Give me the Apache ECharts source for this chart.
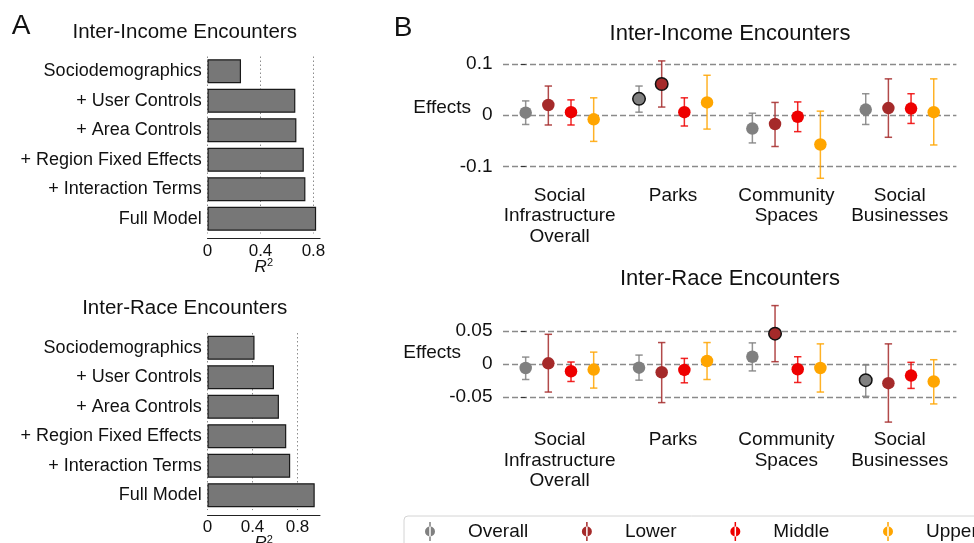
<!DOCTYPE html>
<html>
<head>
<meta charset="utf-8">
<script src="https://cdn.jsdelivr.net/npm/echarts@6/dist/echarts.min.js"></script>
<style>
  html, body { margin: 0; padding: 0; background: #fff; }
  #chart { width: 974px; height: 543px; }
</style>
</head>
<body>
<div id="chart"></div>
<script>
// ---- Panel A: model fit (R^2) for each specification ----
const modelSteps = ['Sociodemographics', '+ User Controls', '+ Area Controls',
  '+ Region Fixed Effects', '+ Interaction Terms', 'Full Model'];
const incomeR2 = [0.253, 0.663, 0.671, 0.727, 0.739, 0.820];
const raceR2 = [0.418, 0.591, 0.635, 0.700, 0.735, 0.953];

// ---- Panel B: effects of social infrastructure by income level ----
const placeTypes = ['Social\nInfrastructure\nOverall', 'Parks', 'Community\nSpaces', 'Social\nBusinesses'];
const incomeLevels = ['Overall', 'Lower', 'Middle', 'Upper'];

// rows: income level (Overall, Lower, Middle, Upper); columns: place type
const incomeEst = [
  [0.005, 0.032, -0.026, 0.011],
  [0.020, 0.061, -0.017, 0.014],
  [0.006, 0.006, -0.003, 0.013],
  [-0.008, 0.025, -0.057, 0.006]
];
const incomeLow = [
  [-0.018, 0.006, -0.054, -0.018],
  [-0.019, 0.016, -0.061, -0.043],
  [-0.019, -0.021, -0.032, -0.016],
  [-0.051, -0.027, -0.123, -0.058]
];
const incomeHigh = [
  [0.028, 0.057, 0.004, 0.042],
  [0.057, 0.106, 0.025, 0.071],
  [0.030, 0.034, 0.026, 0.042],
  [0.034, 0.078, 0.008, 0.071]
];
const incomeSignificant = [
  [false, true, false, false],
  [false, true, false, false],
  [false, false, false, false],
  [false, false, false, false]
];

const raceEst = [
  [-0.006, -0.0055, 0.011, -0.0245],
  [0.001, -0.0125, 0.046, -0.029],
  [-0.011, -0.009, -0.008, -0.0175],
  [-0.0085, 0.0045, -0.006, -0.0265]
];
const raceLow = [
  [-0.0235, -0.0245, -0.0105, -0.049],
  [-0.0425, -0.0585, 0.0035, -0.088],
  [-0.0265, -0.0285, -0.028, -0.037],
  [-0.0365, -0.0235, -0.0425, -0.0605]
];
const raceHigh = [
  [0.0105, 0.0135, 0.032, -0.0015],
  [0.045, 0.0325, 0.0885, 0.0305],
  [0.003, 0.0085, 0.011, 0.0025],
  [0.018, 0.0325, 0.0305, 0.0065]
];
const raceSignificant = [
  [false, false, false, true],
  [false, false, true, false],
  [false, false, false, false],
  [false, false, false, false]
];

const levelColors = ['#808080', '#a52a2a', '#ee0000', '#ffa500'];
const FONT = '"Liberation Sans", Arial, Helvetica, sans-serif';
const INK = '#111111';
// Each place type occupies 5 slots on the x scale: 4 income levels + a gap.
const SLOTS_PER_GROUP = 5;

const chart = echarts.init(document.getElementById('chart'), null, { renderer: 'canvas' });

function errorBars(color) {
  return function (params, api) {
    const x = api.value(0);
    const hi = api.coord([x, api.value(2)]);
    const lo = api.coord([x, api.value(1)]);
    const cap = 3.7;
    const style = { stroke: color, lineWidth: 1.5, opacity: 0.85 };
    return {
      type: 'group',
      children: [
        { type: 'line', shape: { x1: hi[0], y1: hi[1], x2: lo[0], y2: lo[1] }, style: style },
        { type: 'line', shape: { x1: hi[0] - cap, y1: hi[1], x2: hi[0] + cap, y2: hi[1] }, style: style },
        { type: 'line', shape: { x1: lo[0] - cap, y1: lo[1], x2: lo[0] + cap, y2: lo[1] }, style: style }
      ]
    };
  };
}

function effectSeries(est, low, high, sig, xAxisIndex, yAxisIndex) {
  const points = [];
  const bars = [];
  incomeLevels.forEach(function (level, i) {
    points.push({
      type: 'scatter',
      name: level,
      xAxisIndex: xAxisIndex, yAxisIndex: yAxisIndex,
      symbol: 'circle', symbolSize: 12.5,
      clip: false, silent: true, z: 3,
      itemStyle: { color: levelColors[i], opacity: 1 },
      data: placeTypes.map(function (_, g) {
        const item = { value: [g * SLOTS_PER_GROUP + i, est[i][g]] };
        if (sig[i][g]) item.itemStyle = { borderColor: '#111', borderWidth: 1.5 };
        return item;
      })
    });
    bars.push({
      type: 'custom',
      name: level,
      xAxisIndex: xAxisIndex, yAxisIndex: yAxisIndex,
      renderItem: errorBars(levelColors[i]),
      itemStyle: { color: levelColors[i] },
      encode: { x: 0, y: [1, 2] },
      data: placeTypes.map(function (_, g) { return [g * SLOTS_PER_GROUP + i, low[i][g], high[i][g]]; }),
      clip: false, silent: true, z: 2
    });
  });
  return points.concat(bars);
}

function r2Axis(gridIndex, max) {
  return {
    type: 'value', gridIndex: gridIndex, min: 0, max: max, interval: 0.4,
    offset: 5,
    axisLine: { show: true, onZero: false, lineStyle: { color: '#222', width: 1 } },
    axisTick: { show: false },
    axisLabel: { fontSize: 17, color: INK, fontFamily: FONT, margin: 4, showMaxLabel: false },
    splitLine: { show: true, showMaxLine: false, lineStyle: { type: [1.5, 2.5], color: '#8c8c8c', width: 1 } },
    name: '{r|R}{s|2}', nameLocation: 'middle', nameGap: 19, nameMoveOverlap: false,
    nameTextStyle: {
      rich: {
        r: { fontSize: 17, fontStyle: 'italic', color: INK, fontFamily: FONT },
        s: { fontSize: 11, color: INK, fontFamily: FONT, padding: [0, 0, 8, 0] }
      }
    }
  };
}

function modelAxis(gridIndex) {
  return {
    type: 'category', gridIndex: gridIndex, data: modelSteps, inverse: true,
    axisLine: { show: false }, axisTick: { show: false },
    axisLabel: { fontSize: 18, color: INK, fontFamily: FONT, margin: 5.8 }
  };
}

function effectValueXAxis(gridIndex) {
  return { type: 'value', gridIndex: gridIndex, min: -1, max: 19, show: false };
}

function placeAxis(gridIndex, margin) {
  return {
    type: 'category', gridIndex: gridIndex, data: placeTypes, position: 'bottom',
    axisLine: { show: false }, axisTick: { show: false }, splitLine: { show: false },
    axisLabel: {
      fontSize: 19, color: INK, fontFamily: FONT, margin: margin,
      lineHeight: 20.5, verticalAlign: 'top', align: 'center', interval: 0
    }
  };
}

// "lift" raises the axis name above the zero line by that many pixels
function effectYAxis(gridIndex, lim, step, nameGap, lift) {
  return {
    type: 'value', gridIndex: gridIndex, min: -lim, max: lim, interval: step,
    axisLine: { show: false },
    axisTick: { show: true, length: 5, lineStyle: { color: '#333', width: 1 } },
    axisLabel: { fontSize: 19, color: INK, fontFamily: FONT, margin: 10.5 },
    splitLine: { show: true, lineStyle: { type: [6, 3], color: '#8a8a8a', width: 1.4 } },
    name: 'Effects', nameLocation: 'middle', nameRotate: 0, nameGap: nameGap,
    nameMoveOverlap: false,
    nameTextStyle: {
      fontSize: 19, color: INK, fontFamily: FONT,
      verticalAlign: 'bottom', lineHeight: lift * 2
    }
  };
}

const barStyle = { color: '#777777', borderColor: '#1a1a1a', borderWidth: 1.2 };

function textItem(text, x, y, size) {
  return {
    type: 'text', x: x, y: y, silent: true,
    style: { text: text, fontSize: size, fontFamily: FONT, fill: INK, align: 'center', verticalAlign: 'middle' }
  };
}

const LEGEND_ICON = 'path://M4.25,0h1.5v19h-1.5z M0,9.5a5,5 0 1,0 10,0a5,5 0 1,0 -10,0z';

function plotGrid(left, top, width, height) {
  return { left: left, top: top, width: width, height: height, outerBoundsMode: 'none', containLabel: false };
}

const option = {
  animation: false,
  backgroundColor: '#ffffff',
  textStyle: { fontFamily: FONT },
  graphic: [
    textItem('A', 21, 26, 28),
    textItem('B', 403, 28, 28),
    textItem('Inter-Income Encounters', 184.7, 32, 20.5),
    textItem('Inter-Race Encounters', 184.7, 308.5, 20.5),
    textItem('Inter-Income Encounters', 730, 34, 22),
    textItem('Inter-Race Encounters', 730, 279, 22)
  ],
  grid: [
    plotGrid(207.5, 56.5, 112.6, 177),
    plotGrid(207.5, 333, 112.5, 177),
    plotGrid(503, 64, 453.4, 102.5),
    plotGrid(503, 331, 453.4, 66)
  ],
  xAxis: [
    r2Axis(0, 0.85),
    r2Axis(1, 1.0),
    effectValueXAxis(2),
    placeAxis(2, 19),
    effectValueXAxis(3),
    placeAxis(3, 33)
  ],
  yAxis: [
    modelAxis(0),
    modelAxis(1),
    effectYAxis(2, 0.1, 0.1, 32, 7),
    effectYAxis(3, 0.05, 0.05, 42, 11)
  ],
  legend: {
    left: 404, top: 516, width: 760, orient: 'horizontal',
    data: incomeLevels.map(function (n) { return { name: n, icon: LEGEND_ICON }; }),
    itemWidth: 10, itemHeight: 19, itemGap: 53.7,
    padding: [6, 30, 12, 21],
    borderColor: '#d4d4d4', borderWidth: 1, borderRadius: 4,
    selectedMode: false,
    textStyle: { fontSize: 19, color: INK, fontFamily: FONT, padding: [0, 0, 0, 28] }
  },
  series: [
    { type: 'bar', xAxisIndex: 0, yAxisIndex: 0, data: incomeR2, barWidth: 24, itemStyle: barStyle, silent: true },
    { type: 'bar', xAxisIndex: 1, yAxisIndex: 1, data: raceR2, barWidth: 24, itemStyle: barStyle, silent: true }
  ]
    .concat(effectSeries(incomeEst, incomeLow, incomeHigh, incomeSignificant, 2, 2))
    .concat(effectSeries(raceEst, raceLow, raceHigh, raceSignificant, 4, 3))
};

chart.setOption(option);
</script>
</body>
</html>
